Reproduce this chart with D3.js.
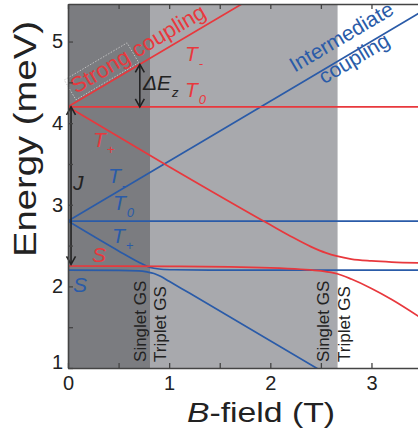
<!DOCTYPE html>
<html>
<head>
<meta charset="utf-8">
<script src="https://cdn.jsdelivr.net/npm/d3@7"></script>
<style>
  body { margin: 0; background: #fff; }
  svg { display: block; }
  text { font-family: "Liberation Sans", Arial, Helvetica, sans-serif; }
</style>
</head>
<body>
<svg id="chart" width="418" height="428"></svg>
<script>
// Spin levels of a coupled pair versus magnetic field: strong (red) and intermediate (blue) exchange.

// Axis ticks
const xTicks = [0, 1, 2, 3];
const xMinorTicks = [0.5, 1.5, 2.5];
const yTicks = [1, 2, 3, 4, 5];
const yMinorTicks = [1.5, 2.5, 3.5, 4.5];

// Ground-state regions along B (T)
const regionStrong = [0, 0.817];
const regionIntermediate = [0.817, 2.665];

// Strong coupling levels, [B (T), E (meV)]
const redTminus = [[0, 4.2], [1.8, 5.52]];
const redT0 = [[0, 4.2], [3.5, 4.2]];
const redUpper = [[0, 4.2], [1.0, 3.467], [2.0, 2.754], [2.2, 2.615], [2.4, 2.487], [2.55, 2.41],
                  [2.66, 2.37], [2.8, 2.335], [3.0, 2.312], [3.2, 2.298], [3.5, 2.288]];
const redLower = [[0, 2.25], [1.0, 2.245], [1.6, 2.24], [2.0, 2.228], [2.3, 2.21], [2.5, 2.19],
                  [2.66, 2.155], [2.8, 2.09], [3.0, 1.975], [3.2, 1.84], [3.5, 1.605]];

// Intermediate coupling levels, [B (T), E (meV)]
const blueTminus = [[0, 2.8], [3.5, 5.37]];
const blueT0 = [[0, 2.8], [3.5, 2.8]];
const blueUpper = [[0, 2.8], [0.5, 2.434], [0.7, 2.296], [0.78, 2.247], [0.85, 2.222], [0.92, 2.21],
                   [1.05, 2.204], [1.4, 2.2], [3.5, 2.2]];
const blueLower = [[0, 2.2], [0.5, 2.197], [0.7, 2.19], [0.78, 2.177], [0.85, 2.158], [0.92, 2.12],
                   [1.0, 2.062], [1.2, 1.918], [2.6, 0.894]];

// Energy gaps marked with double arrows: B position, E from, E to
const zeemanGap = [0.71, 4.2, 4.72];
const exchangeGap = [0.03, 4.2, 2.27];

const RED = "#e8383d";
const BLUE = "#2a5ba8";
const INK = "#222";

const svg = d3.select("#chart");
const x = d3.scaleLinear().domain([0, 3.46]).range([68, 418]);
const y = d3.scaleLinear().domain([1, 5.46]).range([368, 4]);
const [x0, x1] = x.range();
const [yB, yT] = y.range();

svg.append("defs").append("clipPath").attr("id", "plot-area")
  .append("rect").attr("x", x0).attr("y", yT).attr("width", x1 - x0).attr("height", yB - yT);

// Shaded regions
const shade = svg.append("g");
[[regionStrong, "#7b7c80"], [regionIntermediate, "#a8a9ad"]].forEach(([r, c]) => {
  shade.append("rect")
    .attr("x", x(r[0])).attr("width", x(r[1]) - x(r[0]))
    .attr("y", yT).attr("height", yB - yT)
    .attr("fill", c);
});

// Level lines
const line = d3.line().x(d => x(d[0])).y(d => y(d[1])).curve(d3.curveMonotoneX);
const levels = svg.append("g").attr("clip-path", "url(#plot-area)")
  .attr("fill", "none").attr("stroke-width", 1.7);
[[blueTminus, BLUE], [blueT0, BLUE], [blueLower, BLUE], [blueUpper, BLUE],
 [redTminus, RED], [redT0, RED], [redLower, RED], [redUpper, RED]].forEach(([d, c]) => {
  levels.append("path").attr("d", line(d)).attr("stroke", c);
});

// Double arrows
function doubleArrow([b, e0, e1]) {
  const g = svg.append("g").attr("stroke", INK).attr("stroke-width", 1.6).attr("fill", "none");
  const px = x(b), ya = y(e0), yb = y(e1);
  g.append("line").attr("x1", px).attr("x2", px).attr("y1", ya).attr("y2", yb);
  const head = (tip, dir) => g.append("polyline")
    .attr("points", `${px - 4.5},${tip + dir * 8} ${px},${tip} ${px + 4.5},${tip + dir * 8}`);
  head(ya, Math.sign(yb - ya));
  head(yb, Math.sign(ya - yb));
}
doubleArrow(zeemanGap);
doubleArrow(exchangeGap);

// Slanted coupling labels follow the slope of the T- lines
const slope = (d) => Math.atan2(y(d[0][1]) - y(d[1][1]), x(d[1][0]) - x(d[0][0])) * 180 / Math.PI;
const angR = slope(redTminus);
const angB = slope(blueTminus);

const strong = svg.append("g").attr("transform", `translate(76,94) rotate(${-angR})`);
strong.append("rect").attr("x", -3).attr("y", -18).attr("width", 73).attr("height", 23)
  .attr("fill", "none").attr("stroke", "#c8c8c8").attr("stroke-width", 0.8)
  .attr("stroke-dasharray", "1.5,1.5");
strong.append("text").attr("font-size", 22).attr("fill", RED).text("Strong coupling");

const inter = svg.append("g").attr("transform", `translate(345,43) rotate(${-angB})`)
  .attr("font-size", 21).attr("fill", BLUE).attr("text-anchor", "middle");
inter.append("text").attr("x", 0).attr("y", 0).text("Intermediate");
inter.append("text").attr("x", 0).attr("y", 25).text("coupling");

// Level symbols with subscripts
const symbols = [
  { B: 1.157, E: 4.762, main: "T", sub: "-", color: RED },
  { B: 1.157, E: 4.321, main: "T", sub: "0", color: RED },
  { B: 0.247, E: 3.708, main: "T", sub: "+", color: RED },
  { B: 0.237, E: 2.299, main: "S", sub: "", color: RED },
  { B: 0.395, E: 3.267, main: "T", sub: "-", color: BLUE },
  { B: 0.445, E: 2.936, main: "T", sub: "0", color: BLUE },
  { B: 0.435, E: 2.532, main: "T", sub: "+", color: BLUE },
  { B: 0.049, E: 1.931, main: "S", sub: "", color: BLUE },
  { B: 0.741, E: 4.407, main: "ΔE", sub: "z", color: INK },
  { B: 0.05, E: 3.18, main: "J", sub: "", color: INK }
];
symbols.forEach(s => {
  const t = svg.append("text").attr("x", x(s.B)).attr("y", y(s.E))
    .attr("fill", s.color).attr("font-size", 21).attr("font-style", "italic");
  t.append("tspan").text(s.main);
  if (s.sub) t.append("tspan").attr("font-size", 13).attr("dy", 7).attr("dx", 1).text(s.sub);
});

// Ground-state boundary labels
const gsLabels = [
  { B: 0.771, text: "Singlet GS" }, { B: 0.969, text: "Triplet GS" },
  { B: 2.58, text: "Singlet GS" }, { B: 2.788, text: "Triplet GS" }
];
gsLabels.forEach(l => {
  svg.append("text").attr("transform", `translate(${x(l.B)},${y(1.074)}) rotate(-90)`)
    .attr("font-size", 17).attr("fill", INK).text(l.text);
});

// Axes: inward ticks, half-unit minor ticks
const allX = [...xTicks, ...xMinorTicks].sort((a, b) => a - b);
const allY = [...yTicks, ...yMinorTicks].sort((a, b) => a - b);

function styleAxis(g) {
  g.attr("font-family", null).attr("font-size", 20);
  g.selectAll("text").attr("fill", INK);
  g.selectAll("line").attr("stroke", "#444").attr("stroke-width", 1.3);
  g.select(".domain").attr("stroke", "#444").attr("stroke-width", 1.6);
}

svg.append("g").attr("transform", `translate(0,${yB})`)
  .call(d3.axisBottom(x).tickValues(allX).tickSize(-5).tickSizeOuter(0).tickPadding(8)
    .tickFormat(d => xTicks.includes(d) ? d : ""))
  .call(styleAxis);

svg.append("g").attr("transform", `translate(0,${yT})`)
  .call(d3.axisTop(x).tickValues(allX).tickSize(-5).tickSizeOuter(0).tickFormat(""))
  .call(styleAxis);

const yAxisG = svg.append("g").attr("transform", `translate(${x0},0)`)
  .call(d3.axisLeft(y).tickValues(allY).tickSize(-5).tickSizeOuter(0).tickPadding(5)
    .tickFormat(d => yTicks.includes(d) ? d : ""))
  .call(styleAxis);
yAxisG.selectAll(".tick text").filter(d => d === yTicks[0]).attr("y", -6);

// Axis titles
svg.append("text").attr("transform", "translate(36,139) rotate(-90)")
  .attr("text-anchor", "middle").attr("font-size", 31).attr("fill", INK)
  .attr("textLength", 236).attr("lengthAdjust", "spacingAndGlyphs")
  .text("Energy (meV)");

const xt = svg.append("text").attr("x", 261).attr("y", 422)
  .attr("text-anchor", "middle").attr("font-size", 28).attr("fill", INK)
  .attr("textLength", 148).attr("lengthAdjust", "spacingAndGlyphs");
xt.append("tspan").attr("font-style", "italic").text("B");
xt.append("tspan").text("-field (T)");
</script>
</body>
</html>
